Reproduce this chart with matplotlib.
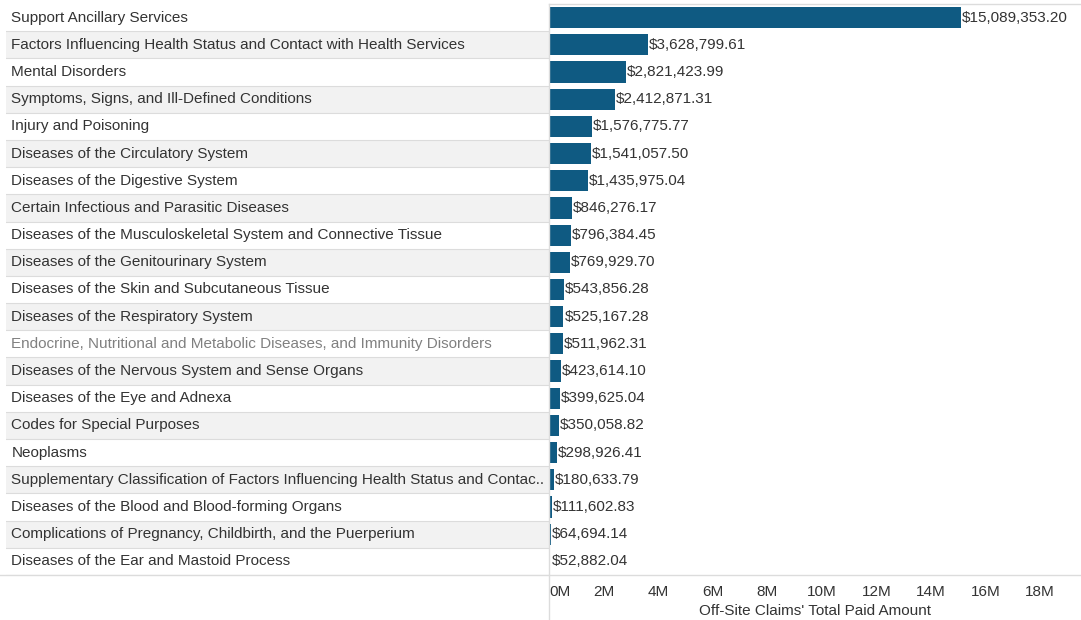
"""
Off-site claims: total paid amount by diagnosis category
"""

import numpy as np
import matplotlib.pyplot as plt
from matplotlib.lines import Line2D
from matplotlib.ticker import FuncFormatter

plt.rcParams["font.family"] = ["Liberation Sans", "DejaVu Sans"]

# Data

categories = [
    "Support Ancillary Services",
    "Factors Influencing Health Status and Contact with Health Services",
    "Mental Disorders",
    "Symptoms, Signs, and Ill-Defined Conditions",
    "Injury and Poisoning",
    "Diseases of the Circulatory System",
    "Diseases of the Digestive System",
    "Certain Infectious and Parasitic Diseases",
    "Diseases of the Musculoskeletal System and Connective Tissue",
    "Diseases of the Genitourinary System",
    "Diseases of the Skin and Subcutaneous Tissue",
    "Diseases of the Respiratory System",
    "Endocrine, Nutritional and Metabolic Diseases, and Immunity Disorders",
    "Diseases of the Nervous System and Sense Organs",
    "Diseases of the Eye and Adnexa",
    "Codes for Special Purposes",
    "Neoplasms",
    "Supplementary Classification of Factors Influencing Health Status and Contac..",
    "Diseases of the Blood and Blood-forming Organs",
    "Complications of Pregnancy, Childbirth, and the Puerperium",
    "Diseases of the Ear and Mastoid Process",
]

paid_amount = [
    15089353.20, 3628799.61, 2821423.99, 2412871.31, 1576775.77,
    1541057.50, 1435975.04, 846276.17, 796384.45, 769929.70,
    543856.28, 525167.28, 511962.31, 423614.10, 399625.04,
    350058.82, 298926.41, 180633.79, 111602.83, 64694.14, 52882.04,
]

x_ticks = [0, 2e6, 4e6, 6e6, 8e6, 10e6, 12e6, 14e6, 16e6, 18e6]

# Layout (pixels of a 1081x620 figure)

W, H = 1081, 620
top, bottom = 4, 575
split = 549
bar_color = "#0f5a82"
text_color = "#333333"
line_color = "#dcdcdc"
fs = 11

fig = plt.figure(figsize=(W / 100, H / 100), dpi=100)

n = len(categories)
y = np.arange(n)

# Label column
ax_lab = fig.add_axes([6 / W, 1 - bottom / H, (split - 6) / W, (bottom - top) / H])
ax_lab.set_xlim(0, 1)
ax_lab.set_ylim(n - 0.5, -0.5)
ax_lab.axis("off")
for i, name in enumerate(categories):
    if i % 2 == 1:
        ax_lab.axhspan(i - 0.5, i + 0.5, color="#f2f2f2", lw=0)
    ax_lab.axhline(i + 0.5, color=line_color, lw=0.8)
    color = "#808080" if name.startswith("Endocrine") else text_color
    ax_lab.text(0.01, i, name, va="center", ha="left", fontsize=fs, color=color)

# Bars
ax = fig.add_axes([split / W, 1 - bottom / H, (W - split) / W, (bottom - top) / H])
ax.barh(y, paid_amount, height=0.78, color=bar_color)
ax.set_ylim(n - 0.5, -0.5)
ax.set_xlim(0, 19.5e6)
ax.set_yticks([])
for s in ax.spines.values():
    s.set_visible(False)

for yi, v in zip(y, paid_amount):
    ax.text(v + 0.04e6, yi, f"${v:,.2f}", va="center", ha="left",
            fontsize=fs, color=text_color)

ax.set_xticks(x_ticks)
ax.xaxis.set_major_formatter(FuncFormatter(lambda v, p: f"{v / 1e6:.0f}M"))
ax.tick_params(axis="x", length=0, pad=7, labelsize=fs, labelcolor=text_color)
ax.get_xticklabels()[0].set_horizontalalignment("left")
ax.set_xlabel("Off-Site Claims' Total Paid Amount", fontsize=fs,
              color=text_color, labelpad=4)

# Frame lines
fig.add_artist(Line2D([0, 1], [1 - bottom / H] * 2, color=line_color, lw=1))
fig.add_artist(Line2D([split / W, 1], [1 - top / H] * 2, color=line_color, lw=1))
fig.add_artist(Line2D([split / W] * 2, [0, 1 - top / H], color=line_color, lw=1))

fig.savefig("out.png", dpi=100)
